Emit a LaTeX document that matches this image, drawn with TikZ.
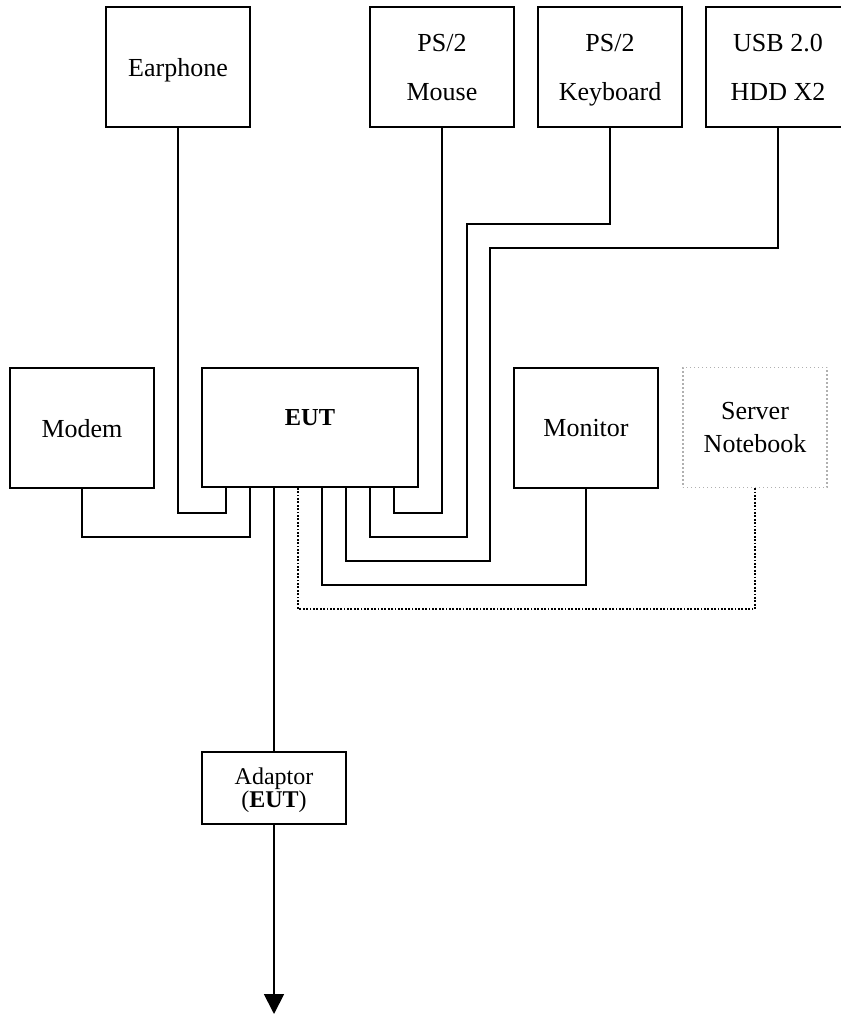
\documentclass[tikz,border=0pt]{standalone}
\usepackage{fontspec}
\setmainfont{Liberation Serif}
\usepackage{tikz}
\usetikzlibrary{arrows.meta, positioning, calc}
\definecolor{dotGray}{HTML}{B0B0B0}

\begin{document}
\begin{tikzpicture}[
    x=0.5pt, y=-0.5pt,
    unitbox/.style={rectangle, draw, line width=0.9pt, inner sep=0pt, align=center, text depth=0pt, minimum width=72pt, minimum height=60pt, font=\fontsize{13}{24.5}\selectfont},
    remotebox/.style={unitbox, draw=dotGray, line width=0.6pt, dash pattern=on 0.6pt off 1.4pt, font=\fontsize{13}{16.5}\selectfont},
    cable/.style={line width=0.9pt},
    dotcable/.style={line width=0.9pt, dash pattern=on 0.9pt off 0.8pt},
    arrow/.style={-{Triangle[length=10pt, width=10pt]}, line width=0.9pt}
]
\useasboundingbox (0,0) rectangle (840,1015);

% Top row
\node[unitbox] (earph) at (178,67) {Earphone};
\node[unitbox] (mouse) at (442,67) {PS/2\\Mouse};
\node[unitbox] (kbd) at (610,67) {PS/2\\Keyboard};
\node[unitbox] (usb) at (778,67) {USB 2.0\\HDD X2};

% Middle row
\node[unitbox] (modem) at (82,428) {Modem};
\node[unitbox, minimum width=108pt, minimum height=59.5pt] (eut) at (310,427.5) {\fontsize{12.2}{14}\bfseries\raisebox{10pt}{EUT}};
\node[unitbox] (mon) at (586,428) {Monitor};
\node[remotebox] (srv) at (755,427.5) {Server\\Notebook};

% Adaptor
\node[unitbox, minimum height=36pt, font=\fontsize{12}{11.5}\selectfont] (adapt) at (274,788) {Adaptor\\(\textbf{EUT})};

% Ports on the EUT
\foreach \i in {1,...,8}
  \coordinate (p\i) at ($(eut.south west)+(1+24*\i,0)$);
\coordinate (kbdjog) at (467,224);
\coordinate (usbjog) at (490,248);
\coordinate (gnd) at (274,1014);

% Cables
\draw[cable] (earph.south) |- ($(p1)+(0,25)$) -- (p1);
\draw[cable] (modem.south) |- ($(p2)+(0,49)$) -- (p2);
\draw[cable] (p3) -- (p3 |- adapt.north);
\draw[dotcable] (srv.south) |- ($(p4)+(0,121)$) -- (p4);
\draw[cable] (mon.south) |- ($(p5)+(0,97)$) -- (p5);
\draw[cable] (usb.south) |- (usbjog) |- ($(p6)+(0,73)$) -- (p6);
\draw[cable] (kbd.south) |- (kbdjog) |- ($(p7)+(0,49)$) -- (p7);
\draw[cable] (mouse.south) |- ($(p8)+(0,25)$) -- (p8);
\draw[arrow] (adapt.south -| gnd) -- (gnd);

\end{tikzpicture}
\end{document}
